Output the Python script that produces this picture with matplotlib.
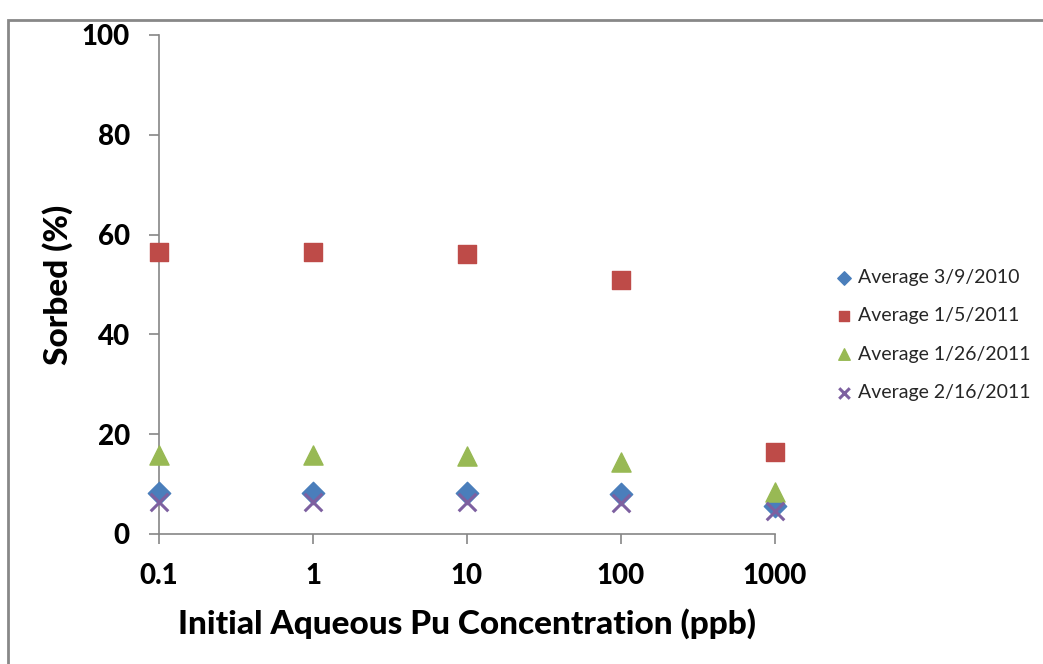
import matplotlib
matplotlib.use("Agg")
import matplotlib.pyplot as plt
from matplotlib.patches import Rectangle

plt.rcParams["font.family"] = ["Lato", "DejaVu Sans"]

# data
concentrations = [0.1, 1, 10, 100, 1000]
series_labels = [
    "Average 3/9/2010",
    "Average 1/5/2011",
    "Average 1/26/2011",
    "Average 2/16/2011",
]
avg_2010_03_09 = [8.2, 8.2, 8.2, 8.0, 5.6]
avg_2011_01_05 = [56.5, 56.5, 56.1, 51.0, 16.5]
avg_2011_01_26 = [15.8, 15.8, 15.6, 14.5, 8.5]
avg_2011_02_16 = [6.4, 6.4, 6.4, 6.3, 4.7]
x_ticks = [0.1, 1, 10, 100, 1000]
x_tick_labels = ["0.1", "1", "10", "100", "1000"]
y_ticks = [0, 20, 40, 60, 80, 100]

AXIS_GRAY = "#868686"
BOLD = 900

fig = plt.figure(figsize=(10.43, 6.64), dpi=100)
ax = fig.add_axes([0.1524, 0.1958, 0.5906, 0.7515])

common = dict(clip_on=False, zorder=3)
ax.scatter(concentrations, avg_2010_03_09, marker="D", s=130, color="#4A7EBB",
           label=series_labels[0], **common)
ax.scatter(concentrations, avg_2011_01_05, marker="s", s=170, color="#BE4B48",
           label=series_labels[1], **common)
ax.scatter(concentrations, avg_2011_01_26, marker="^", s=190, color="#98B954",
           label=series_labels[2], **common)
ax.scatter(concentrations, avg_2011_02_16, marker="x", s=160, color="#7D60A0",
           linewidths=2.2, label=series_labels[3], clip_on=False, zorder=4)

ax.set_xscale("log")
ax.set_xlim(0.1, 1000)
ax.set_ylim(0, 100)
ax.set_xticks(x_ticks)
ax.set_xticklabels(x_tick_labels)
ax.minorticks_off()
ax.set_yticks(y_ticks)

for side in ("top", "right"):
    ax.spines[side].set_visible(False)
for side in ("left", "bottom"):
    ax.spines[side].set_color(AXIS_GRAY)
    ax.spines[side].set_linewidth(1.2)
ax.tick_params(axis="both", direction="out", length=7, width=1.2,
               color=AXIS_GRAY, labelsize=20)
ax.tick_params(axis="x", pad=14)
ax.tick_params(axis="y", pad=14)
for lbl in ax.get_xticklabels() + ax.get_yticklabels():
    lbl.set_fontweight(BOLD)

ax.set_xlabel("Initial Aqueous Pu Concentration (ppb)", fontsize=24,
              fontweight=BOLD, labelpad=14)
ax.set_ylabel("Sorbed (%)", fontsize=24, fontweight=BOLD, labelpad=6)

leg = ax.legend(loc="center left", bbox_to_anchor=(1.084, 0.399), frameon=False,
                fontsize=14, handlelength=1.0, handletextpad=0.2,
                labelspacing=1.1, markerscale=0.6, borderaxespad=0)
for txt in leg.get_texts():
    txt.set_color("#262626")

# outer chart border, right and bottom run off the image
fig.patches.append(Rectangle((0.0075, -0.01), 1.05, 0.9805, transform=fig.transFigure,
                             fill=False, edgecolor="#888888", linewidth=2))

fig.savefig("out.png", dpi=100)
